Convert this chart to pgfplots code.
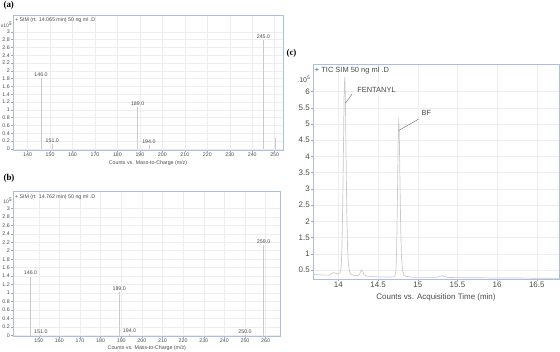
\documentclass[border=0pt]{standalone}
\usepackage{fontspec}
\setmainfont{Liberation Sans}
\newfontfamily\serifb{Liberation Serif}
\usepackage{pgfplots}
\pgfplotsset{compat=1.18}
\definecolor{frameblue}{HTML}{A9C0E4}
\definecolor{stick}{HTML}{CACACA}
\definecolor{txt}{HTML}{4A4A4A}
\definecolor{gridc}{HTML}{EDEDED}
\pgfplotsset{
  spec/.style={
    scale only axis,
    anchor=north west,
    axis line style={frameblue, line width=0.8bp},
    tick align=outside,
    major tick length=2bp,
    tick style={gray!70, line width=0.4bp},
    xtick pos=bottom, ytick pos=left,
    grid=major,
    major grid style={gridc, line width=0.4bp},
    /pgf/number format/assume math mode=true,
    ticklabel style={text=txt, inner sep=1bp},
    clip mode=individual,
  }
}
\begin{document}
\begin{tikzpicture}
\path[use as bounding box] (0,0) rectangle (560bp,-352bp);

% ---------------- (a)
\begin{axis}[spec,
  at={(13bp,-15bp)}, width=270bp, height=135bp,
  xmin=133.5, xmax=253.7, ymin=-0.03, ymax=3.43,
  xtick={140,150,...,250},
  ytick={0,0.2,0.4,0.6,0.8,1,1.2,1.4,1.6,1.8,2,2.2,2.4,2.6,2.8,3},
  yticklabels={0,0.2,0.4,0.6,0.8,1,1.2,1.4,1.6,1.8,2,2.2,2.4,2.6,2.8,3},
  ticklabel style={font=\fontsize{5.3}{6}\selectfont},
  xlabel={Counts vs. Mass-to-Charge (m/z)},
  xlabel style={font=\fontsize{5.3}{6}\selectfont, text=txt, at={(axis description cs:0.5,0)}, anchor=center, yshift=-13bp},
]
\addplot[ycomb, draw=stick, line width=0.7bp, no markers,
  point meta=explicit symbolic, nodes near coords,
  every node near coord/.append style={font=\fontsize{5.3}{6}\selectfont, text=txt, inner sep=1.2bp}]
coordinates {(146,1.82)[146.0] (151,0.12)[151.0] (189,1.08)[189.0] (194,0.1)[194.0] (245,2.79)[245.0]};
\addplot[ycomb, draw=stick, line width=0.7bp, no markers] coordinates {(250.3,0.28)};
\node[anchor=north west, font=\fontsize{5.3}{6}\selectfont, text=txt, inner sep=0.5bp] at (rel axis cs:0.005,0.985) {+ SIM (rt: 14.065 min) 50 ng ml .D};
\node[anchor=east, font=\fontsize{5}{6}\selectfont, text=txt, inner sep=0pt] at (rel axis cs:-0.002,0.93) {x10\textsuperscript{5}};
\end{axis}
\node[anchor=west, font=\serifb\bfseries\fontsize{9}{10}\selectfont] at (0bp,-5bp) {(a)};

% ---------------- (b)
\begin{axis}[spec,
  at={(13bp,-191.7bp)}, width=267.7bp, height=144.3bp,
  xmin=137.5, xmax=267.3, ymin=-0.01, ymax=3.39,
  xtick={150,160,...,260},
  ytick={0,0.2,0.4,0.6,0.8,1,1.2,1.4,1.6,1.8,2,2.2,2.4,2.6,2.8,3},
  yticklabels={0,0.2,0.4,0.6,0.8,1,1.2,1.4,1.6,1.8,2,2.2,2.4,2.6,2.8,3},
  ticklabel style={font=\fontsize{5.3}{6}\selectfont},
  xlabel={Counts vs. Mass-to-Charge (m/z)},
  xlabel style={font=\fontsize{5.3}{6}\selectfont, text=txt, at={(axis description cs:0.5,0)}, anchor=center, yshift=-12bp},
]
\addplot[ycomb, draw=stick, line width=0.7bp, no markers,
  point meta=explicit symbolic, nodes near coords,
  every node near coord/.append style={font=\fontsize{5.3}{6}\selectfont, text=txt, inner sep=1.2bp}]
coordinates {(146,1.39)[146.0] (151,0.01)[151.0] (189,1.03)[189.0] (194,0.03)[194.0] (250,0.01)[250.0] (259,2.13)[259.0]};
\node[anchor=north west, font=\fontsize{5.3}{6}\selectfont, text=txt, inner sep=0.5bp] at (rel axis cs:0.005,0.985) {+ SIM (rt: 14.762 min) 50 ng ml .D};
\node[anchor=east, font=\fontsize{5}{6}\selectfont, text=txt, inner sep=0pt] at (rel axis cs:-0.002,0.94) {10\textsuperscript{5}};
\end{axis}
\node[anchor=west, font=\serifb\bfseries\fontsize{9}{10}\selectfont] at (0bp,-178bp) {(b)};

% ---------------- (c)
\begin{axis}[spec,
  at={(313bp,-64bp)}, width=246bp, height=215bp,
  xmin=13.68, xmax=16.78, ymin=0.22, ymax=6.85,
  xtick={14,14.5,...,16.5},
  ytick={0.5,1,...,6},
  ticklabel style={font=\fontsize{8}{9}\selectfont},
  xlabel={Counts vs. Acquisition Time (min)},
  xlabel style={font=\fontsize{8}{9}\selectfont, text=txt, at={(axis description cs:0.5,0)}, anchor=center, yshift=-18bp},
]
\addplot[draw=stick, line width=0.7bp, no markers] coordinates {
(13.68,0.36) (13.75,0.35) (13.82,0.34) (13.88,0.34) (13.92,0.39) (13.94,0.42) (13.96,0.40)
(13.99,0.38) (14.02,0.40) (14.035,0.6) (14.045,1.2) (14.055,2.6) (14.065,4.5) (14.072,5.9)
(14.08,6.45) (14.088,5.8) (14.096,4.2) (14.105,2.4) (14.115,1.2) (14.125,0.7) (14.14,0.45)
(14.16,0.36) (14.2,0.33) (14.25,0.33) (14.27,0.38) (14.285,0.48) (14.295,0.5) (14.305,0.46)
(14.32,0.36) (14.35,0.31) (14.45,0.29) (14.55,0.28) (14.65,0.28) (14.71,0.29) (14.725,0.45)
(14.735,1.2) (14.745,2.9) (14.752,4.3) (14.76,5.18) (14.768,4.6) (14.776,3.2) (14.785,1.8)
(14.795,0.9) (14.81,0.45) (14.83,0.32) (14.9,0.28) (15.0,0.27) (15.1,0.27) (15.2,0.27)
(15.26,0.28) (15.29,0.31) (15.31,0.32) (15.33,0.30) (15.37,0.27) (15.5,0.26) (15.7,0.26)
(15.87,0.255) (16.0,0.25) (16.2,0.25) (16.5,0.245) (16.78,0.24)};
\draw[gray!80!black, line width=0.4bp] (axis cs:14.09,5.64) -- (axis cs:14.17,5.92);
\draw[gray!80!black, line width=0.4bp] (axis cs:14.76,4.8) -- (axis cs:15.01,5.15);
\node[font=\fontsize{7.5}{9}\selectfont, text=txt] at (axis cs:14.48,6.05) {FENTANYL};
\node[font=\fontsize{7.5}{9}\selectfont, text=txt] at (axis cs:15.11,5.35) {BF};
\node[anchor=north west, font=\fontsize{7.5}{9}\selectfont, text=txt, inner sep=0.5bp] at (rel axis cs:0.005,0.99) {+ TIC SIM 50 ng ml .D};
\node[anchor=east, font=\fontsize{7}{8}\selectfont, text=txt, inner sep=0pt] at (rel axis cs:-0.01,0.93) {.10\textsuperscript{5}};
\end{axis}
\node[anchor=west, font=\serifb\bfseries\fontsize{9}{10}\selectfont] at (283bp,-53bp) {(c)};
\end{tikzpicture}
\end{document}
